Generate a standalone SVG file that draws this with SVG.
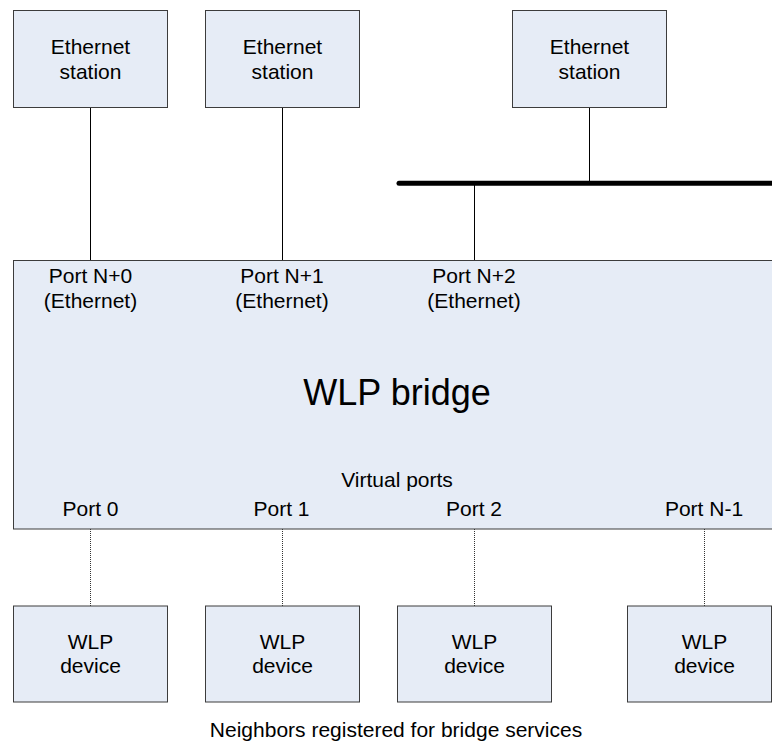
<svg xmlns="http://www.w3.org/2000/svg" width="772" height="749" viewBox="0 0 772 749">
  <style>
    .box { fill: #e6ecf6; stroke: #3c3c3c; stroke-width: 1; }
    .link { stroke: #000; stroke-width: 1; fill: none; }
    .vlink { stroke: #333; stroke-width: 1; stroke-dasharray: 1 1; fill: none; }
    .bus { stroke: #000; stroke-width: 5; stroke-linecap: round; fill: none; }
    text { font-family: "Liberation Sans", Arial, sans-serif; font-size: 21px; fill: #000; text-anchor: middle; }
    .title { font-size: 36px; }
  </style>

  <!-- connectors -->
  <g id="connectors">
    <line class="link" x1="90.5" y1="107" x2="90.5" y2="260"/>
    <line class="link" x1="282.5" y1="107" x2="282.5" y2="260"/>
    <line class="link" x1="589.5" y1="107" x2="589.5" y2="183"/>
    <line class="bus" x1="399" y1="183.3" x2="780" y2="183.3"/>
    <line class="link" x1="474.5" y1="183" x2="474.5" y2="260"/>
    <line class="vlink" x1="90.5" y1="529" x2="90.5" y2="606"/>
    <line class="vlink" x1="282.5" y1="529" x2="282.5" y2="606"/>
    <line class="vlink" x1="474.5" y1="529" x2="474.5" y2="606"/>
    <line class="vlink" x1="704.5" y1="529" x2="704.5" y2="606"/>
  </g>

  <!-- Ethernet stations -->
  <g id="station1">
    <rect class="box" x="13.5" y="10.5" width="154" height="97"/>
    <text x="90.5" y="53.5">Ethernet</text>
    <text x="90.5" y="79">station</text>
  </g>
  <g id="station2">
    <rect class="box" x="205.5" y="10.5" width="154" height="97"/>
    <text x="282.5" y="53.5">Ethernet</text>
    <text x="282.5" y="79">station</text>
  </g>
  <g id="station3">
    <rect class="box" x="512.5" y="10.5" width="154" height="97"/>
    <text x="589.5" y="53.5">Ethernet</text>
    <text x="589.5" y="79">station</text>
  </g>

  <!-- WLP bridge -->
  <g id="bridge">
    <rect class="box" x="13.5" y="260.5" width="790" height="268.5"/>
    <text x="90.5" y="283">Port N+0</text>
    <text x="90.5" y="308">(Ethernet)</text>
    <text x="282" y="283">Port N+1</text>
    <text x="282" y="308">(Ethernet)</text>
    <text x="474" y="283">Port N+2</text>
    <text x="474" y="308">(Ethernet)</text>
    <text class="title" x="397" y="405">WLP bridge</text>
    <text x="397" y="487">Virtual ports</text>
    <text x="90.5" y="515.5">Port 0</text>
    <text x="281.5" y="515.5">Port 1</text>
    <text x="474" y="515.5">Port 2</text>
    <text x="704" y="515.5">Port N-1</text>
  </g>

  <!-- WLP devices -->
  <g id="device0">
    <rect class="box" x="13.5" y="606" width="154" height="96"/>
    <text x="90.5" y="648.5">WLP</text>
    <text x="90.5" y="672.5">device</text>
  </g>
  <g id="device1">
    <rect class="box" x="205.5" y="606" width="154" height="96"/>
    <text x="282.5" y="648.5">WLP</text>
    <text x="282.5" y="672.5">device</text>
  </g>
  <g id="device2">
    <rect class="box" x="397.5" y="606" width="154" height="96"/>
    <text x="474.5" y="648.5">WLP</text>
    <text x="474.5" y="672.5">device</text>
  </g>
  <g id="device3">
    <rect class="box" x="627.5" y="606" width="144" height="96"/>
    <text x="704.5" y="648.5">WLP</text>
    <text x="704.5" y="672.5">device</text>
  </g>

  <text id="caption" x="396" y="737">Neighbors registered for bridge services</text>
</svg>
